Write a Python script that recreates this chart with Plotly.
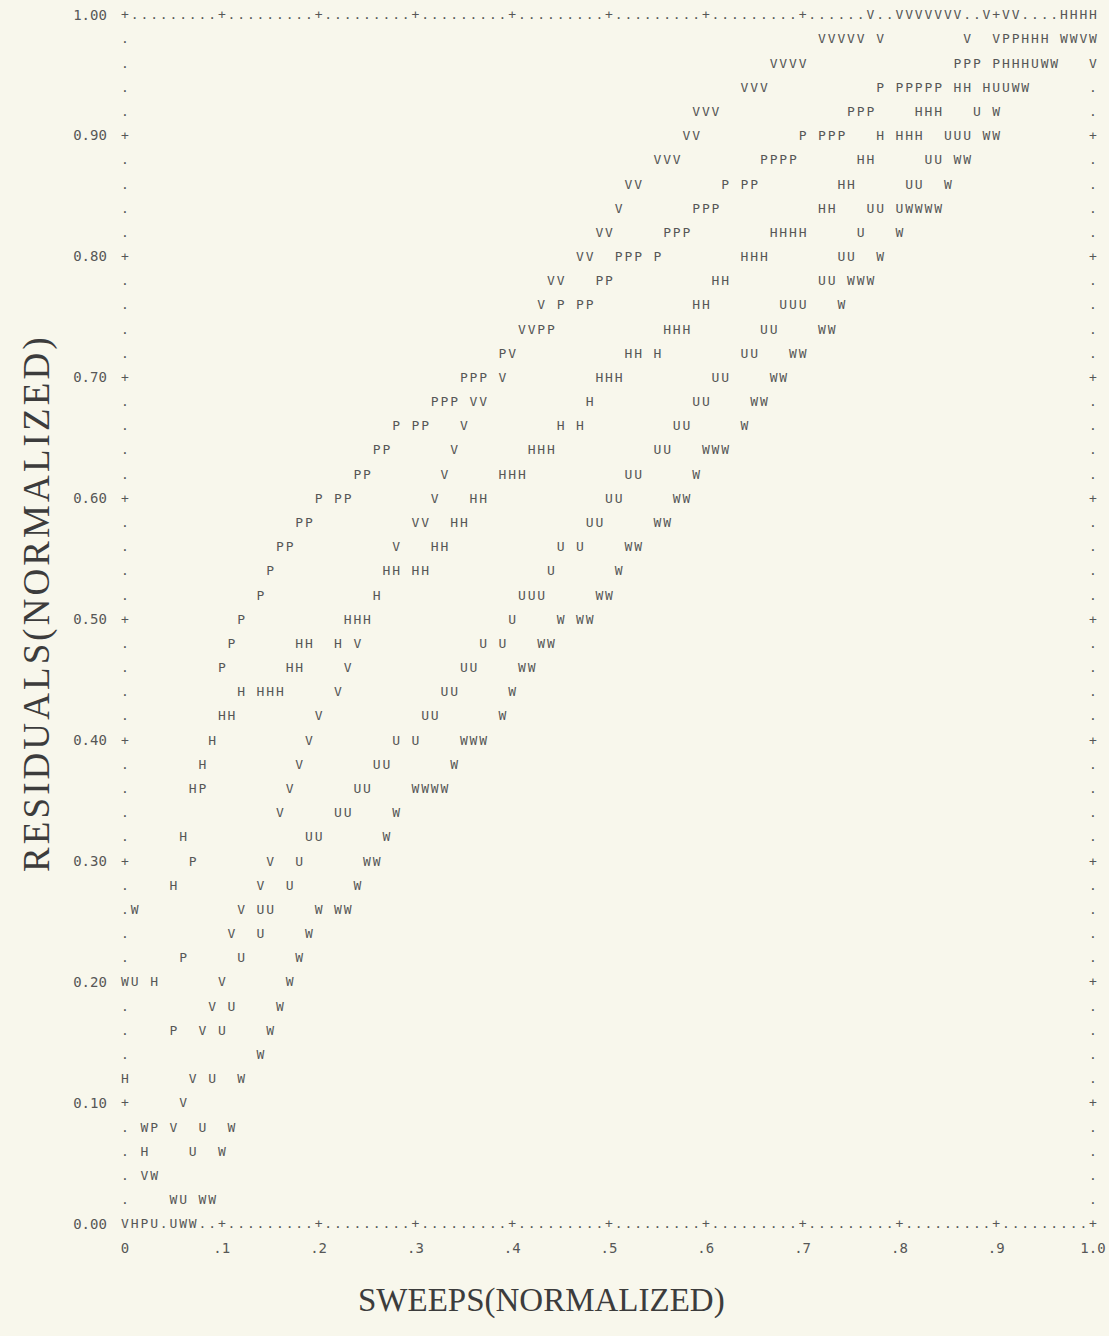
import plotly.graph_objects as go

# ---- data: each series = residual rows (y) and sweep columns (x, in hundredths) ----
V_resid = [1.00, 0.98, 0.96, 0.94, 0.92, 0.90, 0.88, 0.86, 0.84, 0.82, 0.80, 0.78, 0.76, 0.74, 0.72,
           0.70, 0.68, 0.66, 0.64, 0.62, 0.60, 0.58, 0.56, 0.48, 0.46, 0.44, 0.42, 0.40, 0.38, 0.36,
           0.34, 0.30, 0.28, 0.26, 0.24, 0.20, 0.18, 0.16, 0.12, 0.10, 0.08, 0.04, 0.00]
V_sweep = [[77, 80, 81, 82, 83, 84, 85, 86, 89, 91, 92], [72, 73, 74, 75, 76, 78, 87, 90, 99],
           [67, 68, 69, 70, 100], [64, 65, 66], [59, 60, 61], [58, 59], [55, 56, 57], [52, 53], [51],
           [49, 50], [47, 48], [44, 45], [43], [41, 42], [40], [39], [36, 37], [35], [34], [33], [32],
           [30, 31], [28], [24], [23], [22], [20], [19], [18], [17], [16], [15], [14], [12], [11],
           [10], [9], [8], [7], [6], [5], [2], [0]]

P_resid = [0.98, 0.96, 0.94, 0.92, 0.90, 0.88, 0.86, 0.84, 0.82, 0.80, 0.78, 0.76, 0.74, 0.72, 0.70,
           0.68, 0.66, 0.64, 0.62, 0.60, 0.58, 0.56, 0.54, 0.52, 0.50, 0.48, 0.46, 0.36, 0.30, 0.22,
           0.16, 0.08, 0.00]
P_sweep = [[91, 92], [86, 87, 88, 90], [78, 80, 81, 82, 83, 84], [75, 76, 77], [70, 72, 73, 74],
           [66, 67, 68, 69], [62, 64, 65], [59, 60, 61], [56, 57, 58], [51, 52, 53, 55], [49, 50],
           [45, 47, 48], [43, 44], [39], [35, 36, 37], [32, 33, 34], [28, 30, 31], [26, 27], [24, 25],
           [20, 22, 23], [18, 19], [16, 17], [15], [14], [12], [11], [10], [8], [7], [6], [5], [3], [2]]

H_resid = [1.00, 0.98, 0.96, 0.94, 0.92, 0.90, 0.88, 0.86, 0.84, 0.82, 0.80, 0.78, 0.76, 0.74, 0.72,
           0.70, 0.68, 0.66, 0.64, 0.62, 0.60, 0.58, 0.56, 0.54, 0.52, 0.50, 0.48, 0.46, 0.44, 0.42,
           0.40, 0.38, 0.36, 0.32, 0.28, 0.20, 0.12, 0.06, 0.00]
H_sweep = [[97, 98, 99, 100], [93, 94, 95], [91, 92, 93], [86, 87, 89], [82, 83, 84], [78, 80, 81, 82],
           [76, 77], [74, 75], [72, 73], [67, 68, 69, 70], [64, 65, 66], [61, 62], [59, 60], [56, 57, 58],
           [52, 53, 55], [49, 50, 51], [48], [45, 47], [42, 43, 44], [39, 40, 41], [36, 37], [34, 35],
           [32, 33], [27, 28, 30, 31], [26], [23, 24, 25], [18, 19, 22], [17, 18], [12, 14, 15, 16],
           [10, 11], [9], [8], [7], [6], [5], [3], [0], [2], [1]]

U_resid = [0.96, 0.94, 0.92, 0.90, 0.88, 0.86, 0.84, 0.82, 0.80, 0.78, 0.76, 0.74, 0.72, 0.70, 0.68,
           0.66, 0.64, 0.62, 0.60, 0.58, 0.56, 0.54, 0.52, 0.50, 0.48, 0.46, 0.44, 0.42, 0.40, 0.38,
           0.36, 0.34, 0.32, 0.30, 0.28, 0.26, 0.24, 0.22, 0.20, 0.18, 0.16, 0.12, 0.08, 0.06, 0.02, 0.00]
U_sweep = [[94], [90, 91], [88], [85, 86, 87], [83, 84], [81, 82], [77, 78, 80], [76], [74, 75], [72, 73],
           [68, 69, 70], [66, 67], [64, 65], [61, 62], [59, 60], [57, 58], [55, 56], [52, 53], [50, 51],
           [48, 49], [45, 47], [44], [41, 42, 43], [40], [37, 39], [35, 36], [33, 34], [31, 32], [28, 30],
           [26, 27], [24, 25], [22, 23], [19, 20], [18], [17], [14, 15], [14], [12], [1], [11], [10], [9],
           [8], [7], [6], [3, 5]]

W_resid = [0.98, 0.96, 0.94, 0.92, 0.90, 0.88, 0.86, 0.84, 0.82, 0.80, 0.78, 0.76, 0.74, 0.72, 0.70,
           0.68, 0.66, 0.64, 0.62, 0.60, 0.58, 0.56, 0.54, 0.52, 0.50, 0.48, 0.46, 0.44, 0.42, 0.40,
           0.38, 0.36, 0.34, 0.32, 0.30, 0.28, 0.26, 0.24, 0.22, 0.20, 0.18, 0.16, 0.14, 0.12, 0.08,
           0.06, 0.04, 0.02, 0.00]
W_sweep = [[97, 98, 100], [95, 96], [92, 93], [90], [89, 90], [86, 87], [85], [81, 82, 83, 84], [80], [78],
           [75, 76, 77], [74], [72, 73], [69, 70], [67, 68], [65, 66], [64], [60, 61, 62], [59], [57, 58],
           [55, 56], [52, 53], [51], [49, 50], [45, 47, 48], [43, 44], [41, 42], [40], [39], [35, 36, 37],
           [34], [30, 31, 32, 33], [28], [27], [25, 26], [24], [1, 20, 22, 23], [19], [18], [0, 17], [16],
           [15], [14], [12], [2, 11], [10], [3], [5, 8, 9], [6, 7]]

SERIES = [("V", V_resid, V_sweep), ("P", P_resid, P_sweep), ("H", H_resid, H_sweep),
          ("U", U_resid, U_sweep), ("W", W_resid, W_sweep)]

Y_TICKS = [1.00, 0.90, 0.80, 0.70, 0.60, 0.50, 0.40, 0.30, 0.20, 0.10, 0.00]
Y_TICK_LABELS = ["1.00", "0.90", "0.80", "0.70", "0.60", "0.50", "0.40", "0.30", "0.20", "0.10", "0.00"]
X_TICKS = [0.0, 0.1, 0.2, 0.3, 0.4, 0.5, 0.6, 0.7, 0.8, 0.9, 1.0]
X_TICK_LABELS = ["0", ".1", ".2", ".3", ".4", ".5", ".6", ".7", ".8", ".9", "1.0"]

# ---- styling ----
W_PX, H_PX = 1109, 1336
X0_PX, X1_PX = 125, 1093      # pixel of sweep 0 and 1
Y1_PX, Y0_PX = 16, 1225       # pixel of residual 1 and 0
sx = (X1_PX - X0_PX)
sy = (Y0_PX - Y1_PX)
x_range = [-X0_PX / sx, (W_PX - X0_PX) / sx]
y_range = [-(H_PX - Y0_PX) / sy, 1 + Y1_PX / sy]

BG = "#f8f7ec"
INK = "#575757"
MONO = "DejaVu Sans Mono"
FS = 13
HAIR = "\u200a"

fig = go.Figure()

occupied = set()
for ch, ys, xs in SERIES:
    px, py = [], []
    for y, cols in zip(ys, xs):
        for c in cols:
            px.append(c / 100)
            py.append(y)
            occupied.add((c, round(y * 50)))
    fig.add_trace(go.Scatter(x=px, y=py, mode="text", text=[ch] * len(px),
                             textfont=dict(family=MONO, size=FS, color=INK),
                             hoverinfo="skip", showlegend=False))

# printer-style frame: dots with '+' at tick positions
fx, fy, ft = [], [], []
for c in range(0, 101):
    for r in (0, 50):
        if (c, r) not in occupied:
            fx.append(c / 100); fy.append(r / 50); ft.append("+" if c % 10 == 0 else ".")
for r in range(1, 50):
    for c in (0, 100):
        if (c, r) not in occupied:
            fx.append(c / 100); fy.append(r / 50); ft.append("+" if r % 5 == 0 else ".")
fig.add_trace(go.Scatter(x=fx, y=fy, mode="text", text=ft,
                         textfont=dict(family=MONO, size=FS, color=INK),
                         hoverinfo="skip", showlegend=False))

# tick labels
fig.add_trace(go.Scatter(x=[(90 - X0_PX) / sx] * len(Y_TICKS), y=Y_TICKS, mode="text",
                         text=Y_TICK_LABELS, textfont=dict(family=MONO, size=14, color=INK),
                         hoverinfo="skip", showlegend=False))
fig.add_trace(go.Scatter(x=X_TICKS, y=[-(1249 - Y0_PX) / sy] * len(X_TICKS), mode="text",
                         text=X_TICK_LABELS, textfont=dict(family=MONO, size=14, color=INK),
                         hoverinfo="skip", showlegend=False))

fig.add_annotation(text="SWEEPS(NORMALIZED)", xref="paper", yref="paper",
                   x=541 / W_PX, y=1 - 1300 / H_PX, xanchor="center", yanchor="middle",
                   showarrow=False,
                   font=dict(family="Liberation Serif", size=33, color="#3c3c3c"))
fig.add_annotation(text=HAIR.join("RESIDUALS(NORMALIZED)"), xref="paper", yref="paper",
                   x=37 / W_PX, y=1 - 605 / H_PX, xanchor="center", yanchor="middle",
                   showarrow=False, textangle=-90,
                   font=dict(family="Liberation Serif", size=37, color="#3c3c3c"))

axis_common = dict(showgrid=False, zeroline=False, showline=False, showticklabels=False,
                   ticks="", fixedrange=True)
fig.update_layout(width=W_PX, height=H_PX, margin=dict(l=0, r=0, t=0, b=0),
                  paper_bgcolor=BG, plot_bgcolor=BG,
                  xaxis=dict(range=x_range, **axis_common),
                  yaxis=dict(range=y_range, **axis_common))

fig.write_html("out.html", config={"displayModeBar": False},
               post_script="document.body.style.margin='0';document.body.style.background='%s';" % BG)
